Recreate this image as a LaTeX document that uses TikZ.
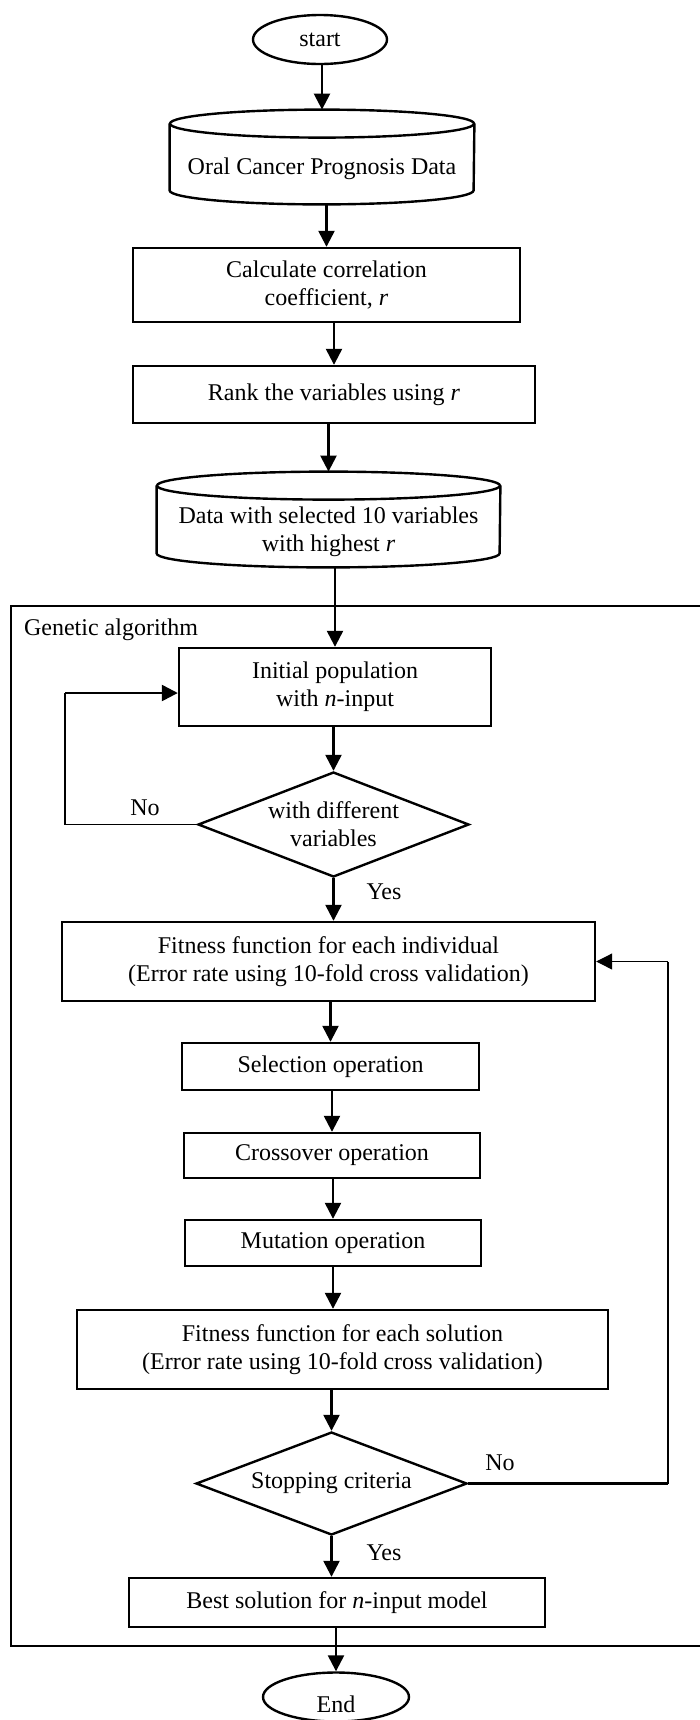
\documentclass[tikz,border=0pt]{standalone}
\usepackage{fontspec}
\setmainfont{Liberation Serif}
\usetikzlibrary{shapes.geometric,arrows.meta,calc}
\newcommand\drawcyl[2]{%
  \draw[shapeline] ($(#1.north)+(0,14)$) ellipse [x radius=#2, y radius=7pt];
  \draw[shapeline] ($(#1.north west)+(0,14)$) -- ($(#1.south west)+(0,-14)$)
     arc[start angle=180, end angle=360, x radius=#2, y radius=7pt] -- ($(#1.north east)+(0,14)$);}
\begin{document}
\begin{tikzpicture}[x=0.5pt,y=-0.5pt,
  every node/.style={font=\fontsize{12}{14}\selectfont},
  shapeline/.style={line width=1.2pt},
  box/.style={draw, line width=1.2pt, rectangle, inner sep=0pt, align=center},
  oval/.style={draw, line width=1.2pt, ellipse, inner sep=0pt},
  dia/.style={draw, line width=1.2pt, diamond, aspect=2.6, inner sep=0pt, align=center},
  cylbox/.style={rectangle, inner sep=0pt},
  arr/.style={line width=1.2pt, -{Triangle[length=8pt,width=8pt]}},
  thinl/.style={line width=0.55pt},
  thinarr/.style={line width=0.55pt, -{Triangle[length=8pt,width=8pt]}},
  frame/.style={line width=0.8pt}]
\useasboundingbox (0,0) rectangle (700,1720);
\clip (0,0) rectangle (700,1720);

% nodes
\node[oval, minimum width=67pt, minimum height=24.5pt] (start) at (320,39.5) {start};
\node[cylbox, minimum width=152pt, minimum height=47pt] (data1) at (322,157) {};
\node (data1t) at (322,169) {Oral Cancer Prognosis Data};
\node[box, minimum width=193.5pt, minimum height=37pt] (calc) at (326.5,285) {Calculate correlation\\coefficient, \textit{r}};
\node[box, minimum width=201pt, minimum height=28.5pt] (rank) at (334,394.5) {Rank the variables using \textit{r}};
\node[cylbox, minimum width=171.5pt, minimum height=47.5pt] (data2) at (328.5,519.5) {};
\node[align=center] (data2t) at (328.5,532) {Data with selected 10 variables\\with highest \textit{r}};
\node[box, minimum width=156pt, minimum height=39pt] (init) at (335,687) {Initial population\\with \textit{n}-input};
\node[dia, minimum width=135.5pt, minimum height=52.5pt] (d1) at (333.5,824.5) {with different\\variables};
\node[box, minimum width=266.5pt, minimum height=39.5pt] (fit1) at (328.5,961.5) {Fitness function for each individual\\(Error rate using 10-fold cross validation)};
\node[box, minimum width=148.5pt, minimum height=23.5pt] (sel) at (330.5,1066.5) {Selection operation};
\node[box, minimum width=148pt, minimum height=22.5pt] (cross) at (332,1155.5) {Crossover operation};
\node[box, minimum width=148pt, minimum height=23pt] (mut) at (333,1243) {Mutation operation};
\node[box, minimum width=265.5pt, minimum height=39.5pt] (fit2) at (342.5,1349.5) {Fitness function for each solution\\(Error rate using 10-fold cross validation)};
\node[dia, minimum width=135.5pt, minimum height=51.5pt] (d2) at (331.5,1483.5) {Stopping criteria};
\node[box, minimum width=208pt, minimum height=24.5pt] (best) at (337,1602.5) {Best solution for \textit{n}-input model};
\node[oval, minimum width=73pt, minimum height=24.5pt] (end) at (336,1697) {};
\node (endt) at (336,1704) {End};

\drawcyl{data1}{76pt}
\drawcyl{data2}{85.75pt}

% labels
\node[anchor=west] (ga) at (17,630) {Genetic algorithm};
\node (no1) at (145,808) {No};
\node (yes1) at (384,892) {Yes};
\node (no2) at (500,1463) {No};
\node (yes2) at (384,1553) {Yes};

% genetic algorithm frame (open to the right edge)
\coordinate (gatr) at (710,606);
\coordinate (gatl) at (11,606);
\coordinate (gabl) at (11,1646);
\coordinate (gabr) at (710,1646);
\draw[frame] (gatr) -- (gatl) -- (gabl) -- (gabr);

% main flow arrows
\draw[arr] (data1.north |- start.south) -- (data1.north);
\draw[arr] (calc.north |- data1.south) -- (calc.north);
\draw[arr] (rank.north |- calc.south) -- (rank.north);
\draw[arr] (data2.north |- rank.south) -- (data2.north);
\draw[arr] (init.north |- data2.south) -- (init.north);
\draw[arr] (d1.north |- init.south) -- (d1.north);
\draw[arr] (d1.south) -- (d1.south |- fit1.north);
\draw[arr] (sel.north |- fit1.south) -- (sel.north);
\draw[arr] (cross.north |- sel.south) -- (cross.north);
\draw[arr] (mut.north |- cross.south) -- (mut.north);
\draw[arr] (mut.south) -- (mut.south |- fit2.north);
\draw[arr] (d2.north |- fit2.south) -- (d2.north);
\draw[arr] (d2.south) -- (d2.south |- best.north);
\draw[arr] (end.north |- best.south) -- (end.north);

% loops
\coordinate (ll) at (65,824.5);
\coordinate (rl) at (668,1483.5);
\coordinate (lin) at ($(init.west)+(0,6)$);
\draw[thinl] (d1.west) -- (ll) -- (ll |- lin);
\draw[arr] (ll |- lin) -- (lin);
\draw[line width=1.2pt] (d2.east) -- (rl);
\draw[thinl] (rl) -- (rl |- fit1.east);
\draw[thinarr] (rl |- fit1.east) -- (fit1.east);
\end{tikzpicture}
\end{document}
